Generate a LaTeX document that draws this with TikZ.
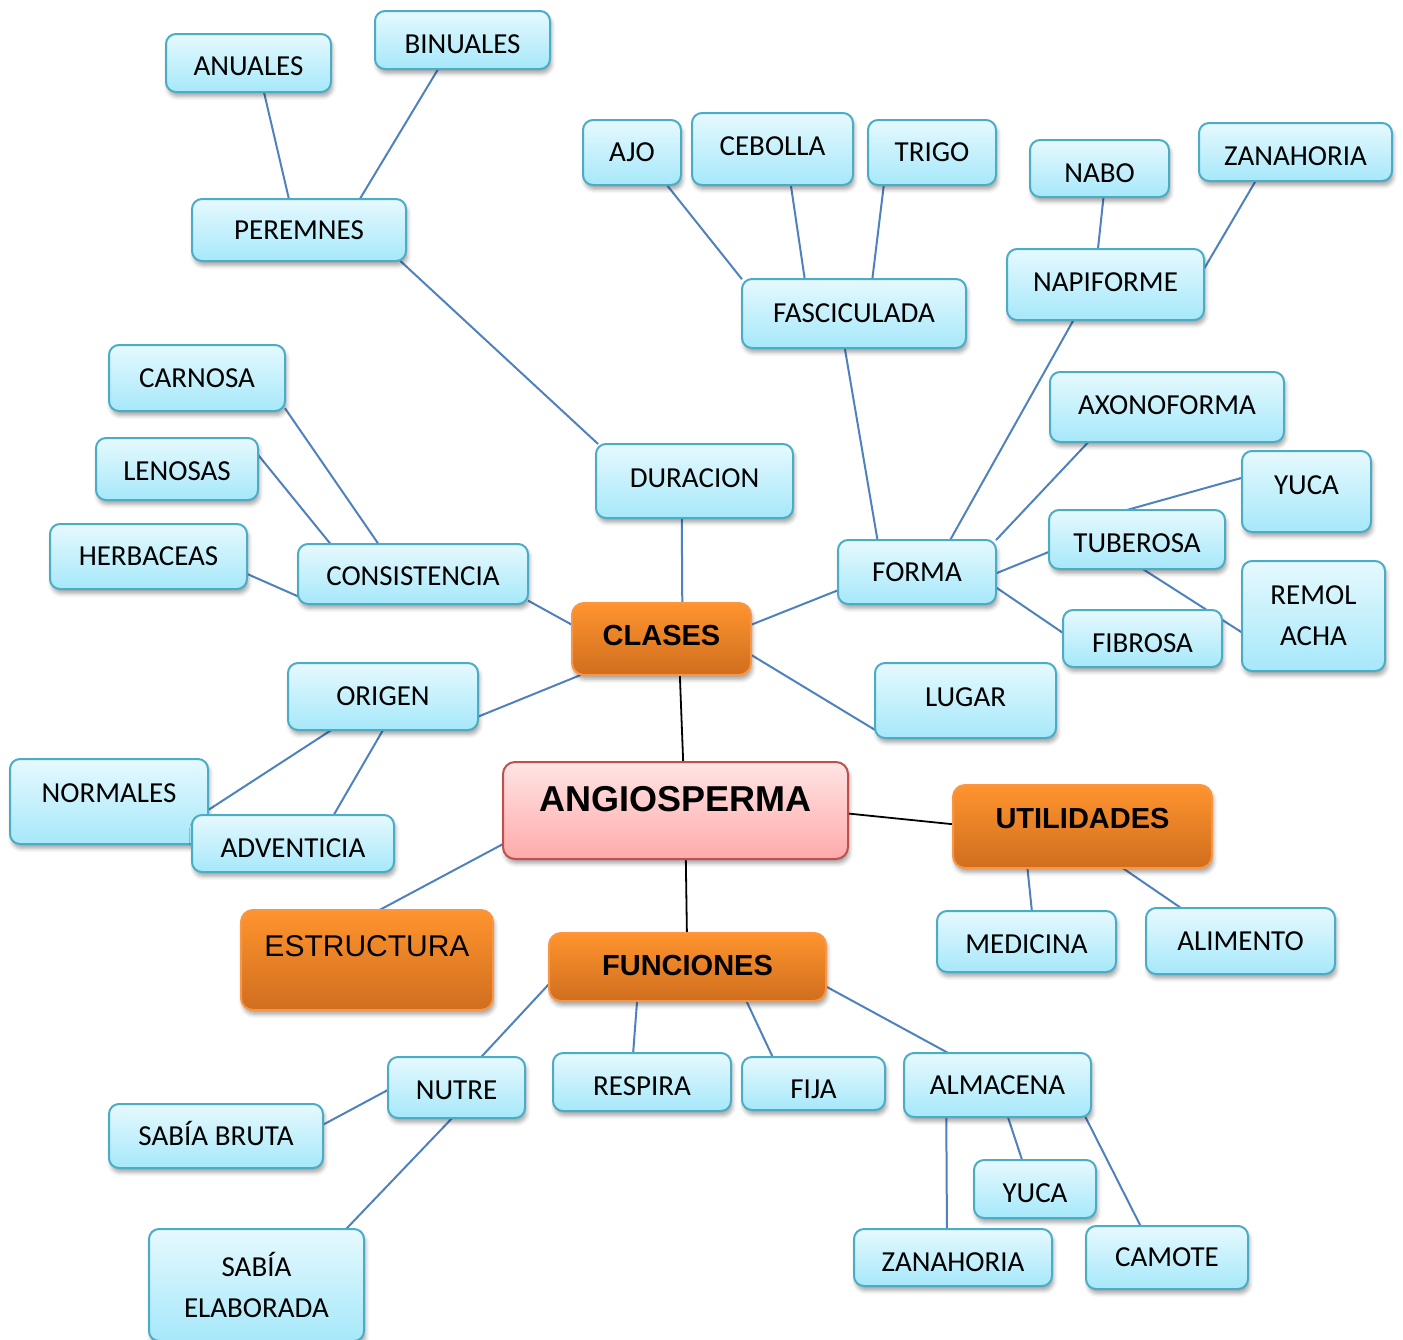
\documentclass[tikz,border=0pt]{standalone}
\usepackage{fontspec}
\setmainfont{Carlito}
\newfontfamily\arialf{Liberation Sans}
\usepackage{tikz}
\usetikzlibrary{shadows.blur,backgrounds}
\definecolor{btop}{RGB}{230,249,254}
\definecolor{bbot}{RGB}{166,232,250}
\definecolor{bbord}{RGB}{75,172,198}
\definecolor{otop}{RGB}{255,148,46}
\definecolor{obot}{RGB}{208,110,30}
\definecolor{obord}{RGB}{247,150,70}
\definecolor{ptop}{RGB}{255,228,228}
\definecolor{pbot}{RGB}{255,170,170}
\definecolor{pbord}{RGB}{192,80,77}
\definecolor{lnblue}{RGB}{79,129,189}

\begin{document}
\begin{tikzpicture}[
    x=0.5pt, y=-0.5pt,
    sz/.style 2 args={minimum width=#1*0.5pt, minimum height=#2*0.5pt},
    shade/.style={blur shadow={shadow xshift=0.8pt, shadow yshift=-2.2pt, shadow blur radius=2pt, shadow opacity=35}},
    bshape/.style={rectangle, rounded corners=5pt, draw=bbord, line width=1pt, top color=btop, bottom color=bbot, shade, outer sep=0pt, inner sep=2pt, align=center, font=\fontsize{14.5}{20.5}\selectfont},
    bbox/.style={bshape, text height=9.3pt, text depth=0pt},
    obox/.style={rectangle, rounded corners=6pt, draw=obord, line width=1pt, top color=otop, bottom color=obot, shade, outer sep=0pt, inner sep=2pt, font=\arialf\bfseries\fontsize{14.5}{17}\selectfont, text height=10.4pt, text depth=0pt},
    pbox/.style={obox, draw=pbord, top color=ptop, bottom color=pbot, font=\arialf\bfseries\fontsize{18}{21}\selectfont, text height=12.9pt},
    up/.style={text depth=#1pt},
    ln/.style={draw=lnblue, line width=1pt},
    lk/.style={draw=black, line width=0.9pt}
]
\useasboundingbox (0,0) rectangle (1403,1339);
\clip (0,0) rectangle (1403,1339);

% Centre
\node[pbox, sz={345}{97}, up=11.5] (angio) at (675.5,810.5) {ANGIOSPERMA};
\node[obox, sz={179}{72}, up=4] (clases) at (661.5,639) {CLASES};
\node[obox, sz={259}{83}, up=8.5] (utilidades) at (1082.5,826.5) {UTILIDADES};
\node[obox, sz={252}{100}, up=14, font=\arialf\fontsize{15}{18}\selectfont, text height=10.7pt] (estructura) at (367,960) {ESTRUCTURA};
\node[obox, sz={277}{68}, up=2] (funciones) at (687.5,967) {FUNCIONES};

% Clases
\node[bbox, sz={197}{74}, up=3] (duracion) at (694.5,481) {DURACION};
\node[bbox, sz={214}{62}] (peremnes) at (299,230) {PEREMNES};
\node[bbox, sz={165}{58}, text height=12.3pt] (anuales) at (248.5,63) {ANUALES};
\node[bbox, sz={175}{58}, text height=13.3pt] (binuales) at (462.5,40) {BINUALES};
\node[bbox, sz={230}{60}, text height=11.3pt] (consistencia) at (413,574) {CONSISTENCIA};
\node[bbox, sz={176}{66}] (carnosa) at (197,378) {CARNOSA};
\node[bbox, sz={162}{62}, text height=11.3pt] (lenosas) at (177,469) {LENOSAS};
\node[bbox, sz={197}{65}] (herbaceas) at (148.5,556.5) {HERBACEAS};
\node[bbox, sz={190}{67}] (origen) at (383,696.5) {ORIGEN};
\node[bbox, sz={198}{85}, up=8.5] (normales) at (109,801.5) {NORMALES};
\node[bbox, sz={202}{57}, text height=13.8pt] (adventicia) at (293,843.5) {ADVENTICIA};
\node[bbox, sz={181}{75}, up=3.5] (lugar) at (965.5,700.5) {LUGAR};

% Forma
\node[bbox, sz={158}{64}] (forma) at (917,572) {FORMA};
\node[bbox, sz={224}{69}] (fasciculada) at (854,313.5) {FASCICULADA};
\node[bbox, sz={98}{65}] (ajo) at (632,152.5) {AJO};
\node[bbox, sz={161}{72}, up=3] (cebolla) at (772.5,149) {CEBOLLA};
\node[bbox, sz={128}{65}] (trigo) at (932,152.5) {TRIGO};
\node[bbox, sz={197}{71}, up=2.5] (napiforme) at (1105.5,284.5) {NAPIFORME};
\node[bbox, sz={139}{57}, text height=13.8pt] (nabo) at (1099.5,168.5) {NABO};
\node[bbox, sz={193}{58}, text height=13.3pt] (zanahoriaA) at (1295.5,152) {ZANAHORIA};
\node[bbox, sz={234}{70}, up=2] (axonoforma) at (1167,407) {AXONOFORMA};
\node[bbox, sz={129}{81}, up=6.5] (yucaA) at (1306.5,491.5) {YUCA};
\node[bbox, sz={176}{59}, text height=12.8pt] (tuberosa) at (1137,539.5) {TUBEROSA};
\node[bshape, sz={143}{110}] (remolacha) at (1313.5,616) {REMOL\\ACHA};
\node[bbox, sz={159}{57}, text height=13.8pt] (fibrosa) at (1142.5,638.5) {FIBROSA};

% Utilidades
\node[bbox, sz={179}{61}, text height=11.8pt] (medicina) at (1026.5,941.5) {MEDICINA};
\node[bbox, sz={189}{66}] (alimento) at (1240.5,941) {ALIMENTO};

% Funciones
\node[bbox, sz={137}{61}, text height=11.8pt] (nutre) at (456.5,1087.5) {NUTRE};
\node[bbox, sz={178}{58}, text height=13.3pt] (respira) at (642,1082) {RESPIRA};
\node[bbox, sz={143}{53}, text height=14.8pt] (fija) at (813.5,1083.5) {FIJA};
\node[bbox, sz={187}{64}] (almacena) at (997.5,1085) {ALMACENA};
\node[bbox, sz={214}{64}] (sabiabruta) at (216,1136) {SABÍA BRUTA};
\node[bshape, sz={215}{112}] (sabiaelab) at (256.5,1285) {SABÍA\\ELABORADA};
\node[bbox, sz={122}{58}, text height=13.3pt] (yucaB) at (1035,1189) {YUCA};
\node[bbox, sz={198}{57}, text height=13.8pt] (zanahoriaB) at (953,1257.5) {ZANAHORIA};
\node[bbox, sz={162}{63}] (camote) at (1167,1257.5) {CAMOTE};

% Connectors
\begin{pgfonlayer}{background}
\draw[lk] (clases.-63) -- (angio.81);
\draw[lk] (angio.-1) -- (utilidades.179);
\draw[lk] (angio.-78) -- (funciones.91);
\draw[ln] (angio.-169) -- (estructura.76);

\draw[ln] (anuales.-62) -- (peremnes.108);
\draw[ln] (binuales.-130) -- (peremnes.27);
\draw[ln] (peremnes.-17) -- (duracion.159);
\draw[ln] (duracion.-109) -- (clases.60);
\draw[ln] (clases.171) -- (consistencia.-13);
\draw[ln] (carnosa.-19) -- (consistencia.139);
\draw[ln] (lenosas.10) -- (consistencia.160);
\draw[ln] (herbaceas.-10) -- (consistencia.-169);
\draw[ln] (clases.-156) -- (origen.-12);
\draw[ln] (origen.-147) -- (normales.-5);
\draw[ln] (origen.-90) -- (adventicia.35);
\draw[ln] (clases.-10) -- (lugar.-162);
\draw[ln] (clases.9) -- (forma.-167);

\draw[ln] (ajo.-43) -- (fasciculada.163);
\draw[ln] (cebolla.-63) -- (fasciculada.145);
\draw[ln] (trigo.-146) -- (fasciculada.62);
\draw[ln] (fasciculada.-105) -- (forma.141);
\draw[ln] (nabo.-82) -- (napiforme.102);
\draw[ln] (zanahoriaA.-144) -- (napiforme.9);
\draw[ln] (napiforme.-132) -- (forma.44);
\draw[ln] (axonoforma.-156) -- (forma.22);
\draw[ln] (yucaA.168) -- (tuberosa.109);
\draw[ln] (tuberosa.-172) -- (forma.-1);
\draw[ln] (tuberosa.-79) -- (remolacha.-167);
\draw[ln] (forma.-11) -- (fibrosa.176);

\draw[ln] (utilidades.-143) -- (medicina.80);
\draw[ln] (utilidades.-46) -- (alimento.151);

\draw[ln] (funciones.-173) -- (nutre.51);
\draw[ln] (funciones.-146) -- (respira.107);
\draw[ln] (funciones.-30) -- (fija.147);
\draw[ln] (funciones.-8) -- (almacena.147);
\draw[ln] (nutre.-178) -- (sabiabruta.6);
\draw[ln] (nutre.-98) -- (sabiaelab.32);
\draw[ln] (almacena.-72) -- (yucaB.114);
\draw[ln] (almacena.-148) -- (zanahoriaB.102);
\draw[ln] (almacena.-20) -- (camote.130);
\end{pgfonlayer}

\end{tikzpicture}
\end{document}
